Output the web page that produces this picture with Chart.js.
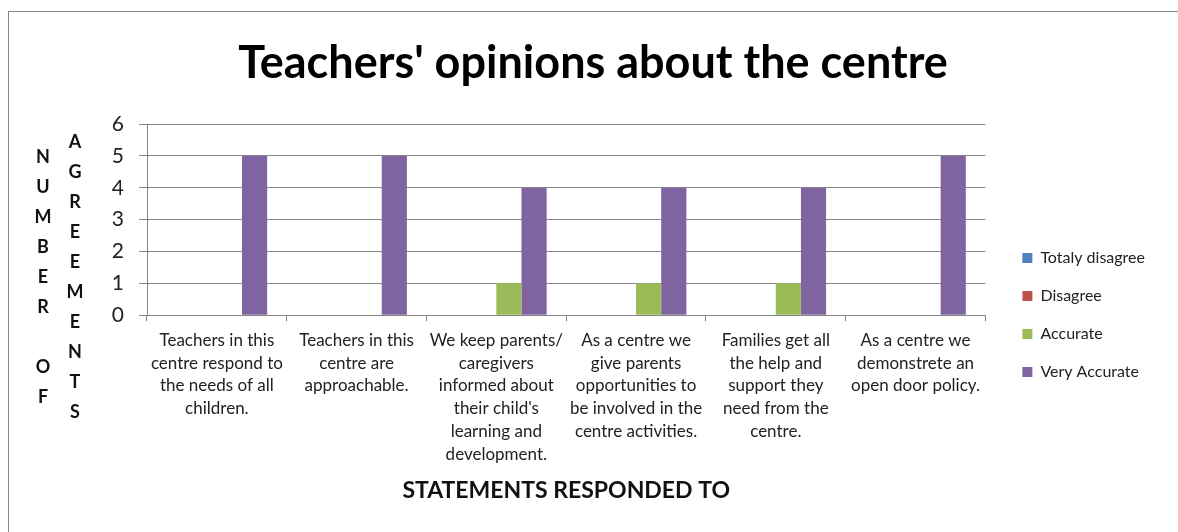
<!DOCTYPE html>
<html>
<head>
<meta charset="utf-8">
<script src="https://cdn.jsdelivr.net/npm/chart.js@4"></script>
<style>
  body { margin: 0; background: #fff; }
  #wrap { position: relative; width: 1178px; height: 532px; }
</style>
</head>
<body>
<div id="wrap"><canvas id="opinionChart"></canvas></div>
<script>
const statements = [
  ['Teachers in this', 'centre respond to', 'the needs of all', 'children.'],
  ['Teachers in this', 'centre are', 'approachable.'],
  ['We keep parents/', 'caregivers', 'informed about', "their child's", 'learning and', 'development.'],
  ['As a centre we', 'give parents', 'opportunities to', 'be involved in the', 'centre activities.'],
  ['Families get all', 'the help and', 'support they', 'need from the', 'centre.'],
  ['As a centre we', 'demonstrete an', 'open door policy.']
];

const totalyDisagree = [0, 0, 0, 0, 0, 0];
const disagree = [0, 0, 0, 0, 0, 0];
const accurate = [0, 0, 1, 1, 1, 0];
const veryAccurate = [5, 5, 4, 4, 4, 5];

const yTicks = [0, 1, 2, 3, 4, 5, 6];
const yTitleCols = ['NUMBER OF', 'AGREEMENTS'];

const FONT = 'Lato, "Open Sans", sans-serif';
const GRID = '#868686';

// outer frame + the stacked-letter y axis title
const framePlugin = {
  id: 'framePlugin',
  beforeDraw(chart) {
    const ctx = chart.ctx;
    ctx.save();
    ctx.strokeStyle = GRID;
    ctx.lineWidth = 1;
    ctx.strokeRect(8.5, 11.5, 1400, 800);
    ctx.restore();
  },
  afterDraw(chart) {
    const ctx = chart.ctx;
    ctx.save();
    ctx.font = 'bold 18px ' + FONT;
    ctx.fillStyle = '#111';
    ctx.textAlign = 'center';
    ctx.textBaseline = 'middle';
    const colX = [43, 75];
    const step = 30;
    const midY = 277;
    yTitleCols.forEach((word, c) => {
      const top = midY - (word.length - 1) * step / 2;
      word.split('').forEach((ch, i) => {
        if (ch !== ' ') ctx.fillText(ch, colX[c], top + i * step);
      });
    });
    ctx.restore();
  }
};

new Chart(document.getElementById('opinionChart'), {
  type: 'bar',
  data: {
    labels: statements,
    datasets: [
      { label: 'Totaly disagree', data: totalyDisagree, backgroundColor: '#4F81BD' },
      { label: 'Disagree', data: disagree, backgroundColor: '#C0504D' },
      { label: 'Accurate', data: accurate, backgroundColor: '#9BBB59' },
      { label: 'Very Accurate', data: veryAccurate, backgroundColor: '#8064A2' }
    ]
  },
  options: {
    responsive: true,
    maintainAspectRatio: false,
    animation: false,
    layout: { padding: { left: 31, right: 23, top: 0, bottom: 28 } },
    datasets: { bar: { categoryPercentage: 0.72, barPercentage: 1 } },
    scales: {
      x: {
        grid: { drawOnChartArea: false, color: GRID, tickLength: 6, offset: true },
        border: { color: GRID },
        ticks: {
          color: '#222',
          font: { family: FONT, size: 17, lineHeight: 1.335 },
          maxRotation: 0,
          autoSkip: false,
          padding: 8
        },
        title: {
          display: true,
          text: 'STATEMENTS RESPONDED TO',
          color: '#111',
          font: { family: FONT, size: 23, weight: 'bold' },
          padding: { top: 3, bottom: 0 }
        }
      },
      y: {
        min: 0,
        max: 6,
        afterBuildTicks(scale) { scale.ticks = yTicks.map(v => ({ value: v })); },
        afterFit(scale) { scale.width = 116; },
        grid: { color: GRID, tickLength: 8 },
        border: { color: GRID },
        ticks: {
          color: '#222',
          font: { family: FONT, size: 21 },
          padding: 15
        }
      },
      // empty strip between the plot and the legend
      gap: {
        type: 'linear',
        position: 'right',
        grid: { display: false },
        border: { display: false },
        ticks: { display: false },
        afterFit(scale) { scale.width = 15; }
      }
    },
    plugins: {
      title: {
        display: true,
        text: "Teachers' opinions about the centre",
        color: '#000',
        font: { family: FONT, size: 45, weight: 'bold' },
        padding: { top: 36, bottom: 34 }
      },
      legend: {
        position: 'right',
        title: { display: true, text: ' ', font: { size: 12, lineHeight: 1 }, padding: 57 },
        labels: {
          color: '#222',
          font: { family: FONT, size: 16 },
          boxWidth: 10,
          boxHeight: 10,
          padding: 22
        }
      },
      tooltip: { enabled: false }
    }
  },
  plugins: [framePlugin]
});
</script>
</body>
</html>
